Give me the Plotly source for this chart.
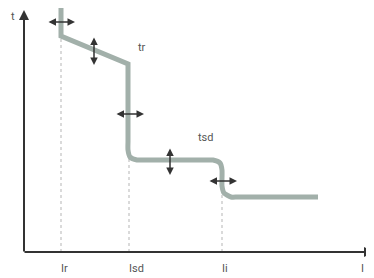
import plotly.graph_objects as go

# Schematic trip curve (data units: x right, y up, origin at axes corner)
thresholds = [37, 105, 198]
threshold_labels = ["Ir", "Isd", "Ii"]

curve_a_x = [37, 37, 104, 104]
curve_a_y = [246, 216, 188, 110]
curve_b_x = [104, 104, 106, 113, 120, 182, 189, 196, 198, 198, 200, 207, 214, 294]
curve_b_y = [110, 102, 95, 92, 92, 92, 92, 89, 82, 66, 59, 55, 55, 55]

dotted_top = [214, 100, 58]

# double-headed adjustment arrows: (x0, y0, x1, y1)
adj_x0 = [23, 70, 91, 146, 184]
adj_y0 = [230, 216, 138, 105, 71]
adj_x1 = [51, 70, 120, 146, 213]
adj_y1 = [230, 187, 138, 77, 71]

param_labels = ["tr", "tsd"]
param_x = [112, 172]
param_y = [205, 115]

axis_len_x = 350
axis_len_y = 242

fig = go.Figure()

for x, top in zip(thresholds, dotted_top):
    fig.add_trace(go.Scatter(x=[x, x], y=[0, top], mode="lines",
                             line=dict(color="#b5b5b5", width=1, dash="dot"),
                             hoverinfo="skip", showlegend=False))

fig.add_trace(go.Scatter(x=curve_a_x, y=curve_a_y, mode="lines",
                         line=dict(color="#a2b0aa", width=5),
                         hoverinfo="skip", showlegend=False))
fig.add_trace(go.Scatter(x=curve_b_x, y=curve_b_y, mode="lines",
                         line=dict(color="#a2b0aa", width=5, shape="spline", smoothing=0.6),
                         hoverinfo="skip", showlegend=False))

ann = []
# axes
ann.append(dict(x=0, y=axis_len_y, ax=0, ay=-1, xref="x", yref="y", axref="x", ayref="y",
                showarrow=True, arrowhead=2, arrowsize=1, arrowwidth=2, arrowcolor="#333333", text=""))
ann.append(dict(x=axis_len_x, y=0, ax=-1, ay=0, xref="x", yref="y", axref="x", ayref="y",
                showarrow=True, arrowhead=2, arrowsize=1, arrowwidth=2, arrowcolor="#333333", text=""))
ann.append(dict(x=-11, y=236, text="t", showarrow=False, font=dict(size=11, color="#555555", family="Roboto")))
ann.append(dict(x=338, y=-16, text="I", showarrow=False, font=dict(size=11, color="#555555", family="Roboto")))

for x, lab in zip(thresholds, threshold_labels):
    ann.append(dict(x=x - 2, y=-16, text=lab, showarrow=False, xanchor="left",
                    font=dict(size=11, color="#555555", family="Roboto")))

for x0, y0, x1, y1 in zip(adj_x0, adj_y0, adj_x1, adj_y1):
    ann.append(dict(x=x1, y=y1, ax=x0, ay=y0, xref="x", yref="y", axref="x", ayref="y",
                    showarrow=True, arrowhead=2, startarrowhead=2, arrowside="end+start",
                    arrowsize=1, startarrowsize=1, arrowwidth=1.5, arrowcolor="#333333", text=""))

for x, y, lab in zip(param_x, param_y, param_labels):
    ann.append(dict(x=x, y=y, text=lab, showarrow=False, xanchor="left",
                    font=dict(size=11, color="#555555", family="Roboto")))

fig.update_layout(
    width=366, height=270,
    margin=dict(l=0, r=0, t=0, b=0),
    paper_bgcolor="white", plot_bgcolor="white",
    xaxis=dict(range=[-16, 350], visible=False, fixedrange=True),
    yaxis=dict(range=[-26, 244], visible=False, fixedrange=True),
    annotations=ann,
    showlegend=False,
)

fig.write_html("out.html")
